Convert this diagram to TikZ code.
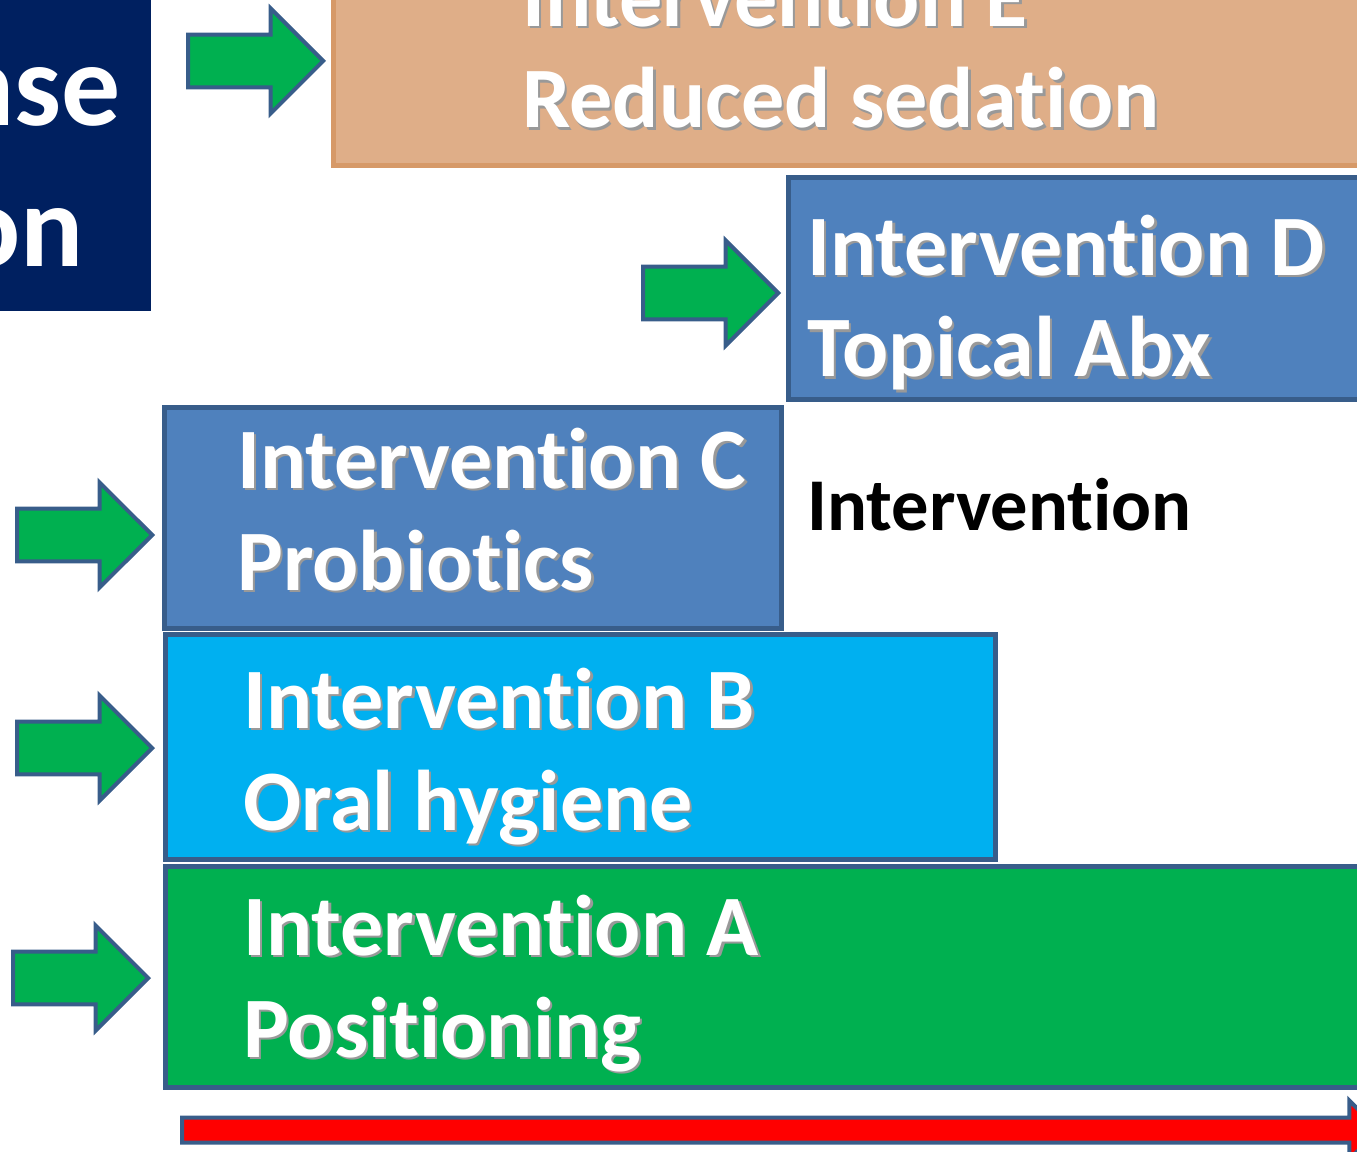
\documentclass[tikz,border=0pt]{standalone}
\usepackage{fontspec}
\setmainfont{Carlito}[Ligatures=NoCommon]
\usetikzlibrary{shapes.arrows, positioning, calc}

\definecolor{navybg}{RGB}{0,32,96}
\definecolor{peachfill}{RGB}{223,174,136}
\definecolor{peachline}{RGB}{214,153,104}
\definecolor{steelfill}{RGB}{79,129,189}
\definecolor{steelline}{RGB}{56,93,138}
\definecolor{cyanfill}{RGB}{0,176,240}
\definecolor{grassfill}{RGB}{0,176,80}

% white text with a soft drop shadow
\newcommand{\shd}[1]{\rlap{\kern1.3pt\raisebox{-1.3pt}{\textcolor{black!40}{#1}}}#1}

\begin{document}
\begin{tikzpicture}[
  x=0.02cm, y=-0.02cm,
  ivbox/.style={rectangle, anchor=north west, inner sep=0pt, outer sep=0pt, line width=0.1cm, draw=steelline},
  ivtext/.style={anchor=base west, inner sep=0pt, align=left, text=white, font=\fontsize{49}{58}\selectfont\bfseries},
  greenarrow/.style={single arrow, anchor=tip, draw=steelline, fill=grassfill, line width=0.08cm, inner sep=0pt, inner ysep=0.49cm, single arrow head extend=0.52cm, minimum height=2.7cm}
]
  \useasboundingbox (0,0) rectangle (1357,1152);
  \clip (0,0) rectangle (1357,1152);

  % Titelblock links oben
  \node (title) [rectangle, anchor=north west, inner sep=0pt, fill=navybg, minimum width=3.42cm, minimum height=6.62cm] at (-20,-20) {};
  \node (titleA) [anchor=base east, inner sep=0pt, text=white, font=\fontsize{67}{80}\selectfont\bfseries] at (121,126) {nse};
  \node (titleB) [anchor=base east, inner sep=0pt, text=white, font=\fontsize{67}{80}\selectfont\bfseries] at (84,267) {on};

  % Treppe der Interventionen
  \node (boxE) [ivbox, draw=peachline, fill=peachfill, minimum width=21.74cm, minimum height=4.52cm] at (333,-60) {};
  \node (boxD) [ivbox, fill=steelfill, minimum width=12.64cm, minimum height=4.44cm] at (788,178) {};
  \node (boxC) [ivbox, fill=steelfill, minimum width=12.36cm, minimum height=4.42cm] at (164,408) {};
  \node (boxB) [ivbox, fill=cyanfill, minimum width=16.62cm, minimum height=4.52cm] at (165,634) {};
  \node (boxA) [ivbox, fill=grassfill, minimum width=25.1cm, minimum height=4.44cm] at (165,866) {};

  \node (textE) [ivtext] at (522,128) {\shd{Intervention E}\\\shd{Reduced sedation}};
  \node (textD) [ivtext] at (807,377) {\shd{Intervention D}\\\shd{Topical Abx}};
  \node (textC) [ivtext] at (237,590) {\shd{Intervention C}\\\shd{Probiotics}};
  \node (textB) [ivtext] at (243,830) {\shd{Intervention B}\\\shd{Oral hygiene}};
  \node (textA) [ivtext] at (243,1057) {\shd{Intervention A}\\\shd{Positioning}};
  \node (note) [anchor=base west, inner sep=0pt, font=\fontsize{42.4}{50}\selectfont\bfseries] at (807,530) {Intervention};

  % Pfeile
  \node (arrE) [greenarrow] at (326,61) {};
  \node (arrD) [greenarrow] at (781,293) {};
  \node (arrC) [greenarrow] at (155,535) {};
  \node (arrB) [greenarrow] at (155,748) {};
  \node (arrA) [greenarrow] at (151,978) {};

  % Zeitachse
  \node (time) [single arrow, anchor=tail, draw=steelline, fill=red, line width=0.08cm, inner sep=0pt, inner ysep=0.21cm, single arrow head extend=0.34cm, minimum height=23.94cm] at (180,1130) {};

\end{tikzpicture}
\end{document}
